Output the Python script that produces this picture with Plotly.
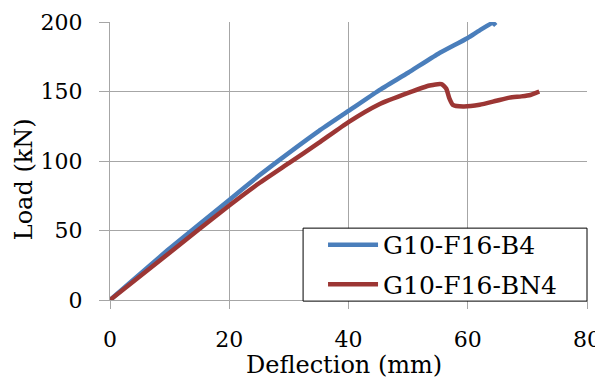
import plotly.graph_objects as go

# Data
b4_x = [0, 10, 20, 25, 28.5, 35, 40, 45, 50, 55, 60, 62, 64.2, 64.7]
b4_y = [0, 37, 72, 89.5, 101, 121.5, 136, 150.5, 163.5, 177, 188.5, 194, 199.3, 197.5]

bn4_x = [0, 10, 20, 25, 30, 35, 40, 45, 50, 53.6, 55.6, 56.4, 56.9, 57.5, 59.2, 62, 64.8, 67, 69, 70.5, 72]
bn4_y = [0, 34, 68, 84, 98.5, 113, 128, 140.5, 149, 154.3, 155.3, 152, 145.2, 140.4, 139.2, 140.4, 143.3, 145.6, 146.5, 147.5, 150]

x_ticks = [0, 20, 40, 60, 80]
y_ticks = [0, 50, 100, 150, 200]

FONT = "DejaVu Serif"
GRID = "#A6A6A6"

fig = go.Figure()
fig.add_trace(go.Scatter(x=b4_x, y=b4_y, mode="lines", name="G10-F16-B4", legendgroup="a",
                         line=dict(color="#4A7EBB", width=4.5, shape="spline", smoothing=0.5)))
fig.add_trace(go.Scatter(x=bn4_x, y=bn4_y, mode="lines", name="G10-F16-BN4", legendgroup="b",
                         line=dict(color="#9C3634", width=4.5, shape="spline", smoothing=0.5)))

fig.update_layout(
    width=595, height=375,
    margin=dict(l=101.5, r=15.5, t=14.3, b=83.3, autoexpand=False),
    plot_bgcolor="white", paper_bgcolor="white",
    font=dict(family=FONT, color="black", size=22),
    showlegend=True,
    legend=dict(x=0.4466, y=0.281, xanchor="left", yanchor="top",
                bgcolor="rgba(0,0,0,0)", borderwidth=0,
                font=dict(family=FONT, size=25), tracegroupgap=4,
                itemwidth=50),
    xaxis=dict(range=[0, 80], tickvals=x_ticks, showgrid=True, gridcolor=GRID, gridwidth=1,
               showline=True, linecolor=GRID, linewidth=1, ticks="outside", ticklen=8,
               tickcolor=GRID, tickfont=dict(family=FONT, size=22), ticklabelstandoff=12,
               zeroline=False, fixedrange=True, automargin=False),
    yaxis=dict(range=[0, 200], tickvals=y_ticks, showgrid=True, gridcolor=GRID, gridwidth=1,
               showline=True, linecolor=GRID, linewidth=1, ticks="outside", ticklen=10,
               tickcolor=GRID, tickfont=dict(family=FONT, size=22), ticklabelstandoff=12,
               zeroline=False, fixedrange=True, automargin=False),
    shapes=[dict(type="rect", xref="paper", yref="paper", x0=0.4048, x1=1.0, y0=-0.004, y1=0.2585,
                 fillcolor="white", line=dict(color="black", width=1), layer="above")],
    annotations=[
        dict(text="Load (kN)", textangle=-90, xref="paper", yref="paper",
             x=-0.181, y=0.433, xanchor="center", yanchor="middle", showarrow=False,
             font=dict(family=FONT, size=24)),
        dict(text="Deflection (mm)", xref="paper", yref="paper",
             x=0.49, y=-0.235, xanchor="center", yanchor="middle", showarrow=False,
             font=dict(family=FONT, size=24)),
    ],
)

fig.write_html("out.html")
